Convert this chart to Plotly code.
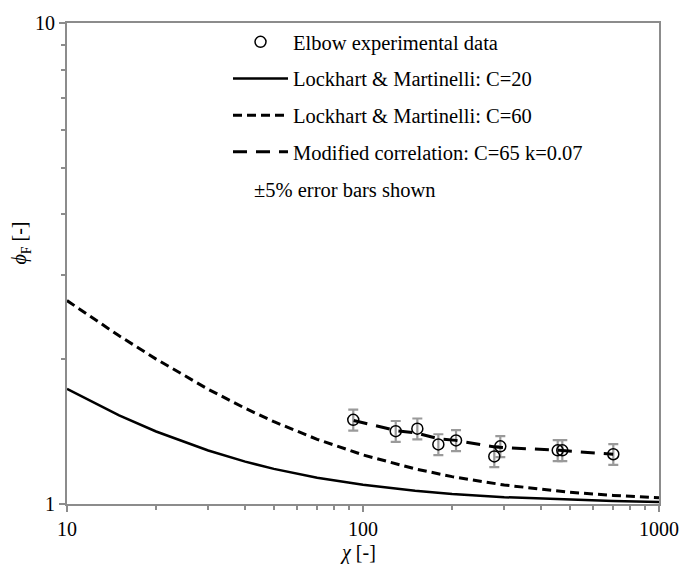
import plotly.graph_objects as go

# Experimental data (elbow)
exp_x = [92.7, 129, 152.6, 179.7, 206.2, 277.7, 291, 454.8, 471.3, 700.8]
exp_y = [1.496, 1.417, 1.434, 1.330, 1.356, 1.256, 1.318, 1.293, 1.293, 1.269]

# Lockhart & Martinelli curves
lm_x = [10, 15, 20, 30, 40, 50, 70, 100, 150, 200, 300, 500, 700, 1000]
lm20_y = [1.735, 1.529, 1.415, 1.292, 1.225, 1.183, 1.134, 1.096, 1.065, 1.049, 1.033, 1.020, 1.014, 1.010]
lm60_y = [2.648, 2.237, 2.001, 1.732, 1.581, 1.483, 1.363, 1.265, 1.183, 1.140, 1.095, 1.058, 1.042, 1.030]

# Modified correlation
mod_x = [93, 130, 152, 180, 206, 280, 300, 460, 700]
mod_y = [1.492, 1.42, 1.404, 1.367, 1.356, 1.313, 1.31, 1.293, 1.269]

FONT = "Liberation Serif"

fig = go.Figure()
fig.add_trace(go.Scatter(
    x=exp_x, y=exp_y, mode="markers", name="Elbow experimental data",
    legendgroup="a",
    marker=dict(symbol="circle-open", size=11, color="black", line=dict(width=1.5, color="black")),
    error_y=dict(type="percent", value=5, color="#9a9a9a", thickness=2.2, width=5),
))
fig.add_trace(go.Scatter(
    x=lm_x, y=lm20_y, mode="lines", name="Lockhart & Martinelli: C=20",
    legendgroup="b", line=dict(color="black", width=2.5),
))
fig.add_trace(go.Scatter(
    x=lm_x, y=lm60_y, mode="lines", name="Lockhart & Martinelli: C=60",
    legendgroup="c", line=dict(color="black", width=3, dash="9px,5px"),
))
fig.add_trace(go.Scatter(
    x=mod_x, y=mod_y, mode="lines", name="Modified correlation: C=65 k=0.07",
    legendgroup="d", line=dict(color="black", width=3, dash="14px,9px"),
))

axis_common = dict(
    type="log", showgrid=False, zeroline=False,
    showline=True, linecolor="#8c8c8c", linewidth=2, mirror=True,
    ticks="outside", ticklen=6, tickwidth=1.5, tickcolor="#8c8c8c",
    tickfont=dict(family=FONT, size=20, color="black"),
)

W, H = 695, 568
L, R, T, B = 67, 36, 20, 64
pw, ph = W - L - R, H - T - B
def px(xp): return (xp - L) / pw
def py(yp): return (H - B - yp) / ph

fig.update_layout(
    width=W, height=H,
    margin=dict(l=L, r=R, t=T, b=B),
    paper_bgcolor="white", plot_bgcolor="white",
    font=dict(family=FONT, size=20, color="black"),
    showlegend=True,
    legend=dict(
        x=px(228), y=py(19), xanchor="left", yanchor="top",
        bgcolor="rgba(0,0,0,0)", borderwidth=0,
        font=dict(family=FONT, size=20.5, color="black"),
        tracegroupgap=7, itemwidth=55,
    ),
    xaxis=dict(
        range=[1, 3], tickvals=[10, 100, 1000], ticktext=["10", "100", "1000"],
        minor=dict(ticks="outside", ticklen=4, tickcolor="#8c8c8c", dtick="D1", showgrid=False),
        **axis_common,
    ),
    yaxis=dict(
        range=[0, 1], tickvals=[1, 10], ticktext=["1", "10"],
        minor=dict(ticks="outside", ticklen=4, tickcolor="#8c8c8c", dtick="D1", showgrid=False),
        **axis_common,
    ),
    annotations=[
        dict(text="±5% error bars shown", x=px(252), y=py(188), xref="paper", yref="paper",
             xanchor="left", yanchor="middle",
             showarrow=False, font=dict(family=FONT, size=20.5)),
        dict(text="<i>χ</i> [-]", x=px(358), y=py(553), xref="paper", yref="paper",
             xanchor="center", yanchor="middle",
             showarrow=False, font=dict(family=FONT, size=20)),
        dict(text="<i>ϕ</i><sub>F</sub> [-]", x=px(21), y=py(242), xref="paper", yref="paper",
             xanchor="center", yanchor="middle",
             showarrow=False, textangle=-90, font=dict(family=FONT, size=20)),
    ],
)

fig.write_html("out.html")
